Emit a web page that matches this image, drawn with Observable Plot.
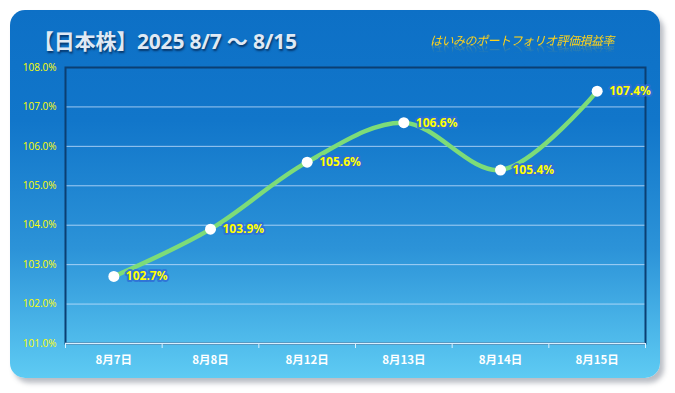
<!DOCTYPE html>
<html><head><meta charset="utf-8">
<script src="https://cdn.jsdelivr.net/npm/d3@7"></script>
<script src="https://cdn.jsdelivr.net/npm/@observablehq/plot@0.6"></script>
<style>
body{margin:0;width:675px;height:393px;overflow:hidden;background:#fff;position:relative;font-family:"Open Sans","Noto Sans CJK JP",sans-serif;}
#card{position:absolute;left:10px;top:10px;width:650px;height:368px;border-radius:15px;
 background:linear-gradient(to bottom,#0d70c6 0%,#1176ca 30%,#2c93d8 65%,#5ecbf3 100%);
 box-shadow:4px 5px 5px rgba(60,70,90,0.35);}
#chart{position:absolute;left:0;top:0;}
#title{position:absolute;left:33px;top:25px;font:bold 21px "Open Sans","Noto Sans CJK JP",sans-serif;color:#dfe9f4;
 text-shadow:1px 2px 2px rgba(0,30,70,0.7);white-space:nowrap;letter-spacing:-0.2px}
#sub{position:absolute;left:430px;top:31px;font:italic 12px "Noto Sans CJK JP",sans-serif;color:#ffd21a;white-space:nowrap;letter-spacing:-0.5px;
 -webkit-box-reflect:below -6px linear-gradient(transparent 35%, rgba(255,255,255,0.45));}
</style></head>
<body>
<div id="card"></div>
<div id="chart"></div>
<div id="title">【日本株】2025 8/7 ～ 8/15</div>
<div id="sub">はいみのポートフォリオ評価損益率</div>
<script>
const dates = ["8月7日","8月8日","8月12日","8月13日","8月14日","8月15日"];
const values = [102.7, 103.9, 105.6, 106.6, 105.4, 107.4];
const yTicks = [101,102,103,104,105,106,107,108];

const data = dates.map((d,i)=>({i, d, v: values[i]}));
const bounds = d3.range(-0.5, dates.length, 1);

const chart = Plot.plot({
  width: 675, height: 393,
  marginLeft: 65, marginRight: 30, marginTop: 67, marginBottom: 50,
  style: {background: "transparent", overflow: "visible"},
  x: {domain: [-0.5, dates.length - 0.5], label: null},
  y: {domain: [101, 108], label: null},
  marks: [
    Plot.gridY(yTicks, {stroke: "#cfe6ff", strokeOpacity: 0.75, strokeWidth: 1}),
    Plot.frame({stroke: "#0b3f72", strokeWidth: 2}),
    Plot.ruleY([101], {stroke: "#d8f0ff", strokeWidth: 1.5}),
    Plot.axisY(yTicks, {tickSize: 0, tickPadding: 9, label: null, tickFormat: d => d.toFixed(1) + "%", fill: "#ffff00", fontSize: 10, fontFamily: "Open Sans, sans-serif"}),
    Plot.axisX(bounds, {tickSize: 5, stroke: "#d8f0ff", label: null, tickFormat: () => ""}),
    Plot.axisX(d3.range(dates.length), {tickSize: 0, tickPadding: 12, label: null, tickFormat: i => dates[i], fill: "#ffffff", fontWeight: "bold", fontSize: 11.5, fontFamily: "Noto Sans CJK JP, sans-serif", ariaLabel: "xlabels"}),
    Plot.line(data, {x: "i", y: "v", curve: "catmull-rom", stroke: "#7ddc78", strokeWidth: 4.5}),
    Plot.dot(data, {x: "i", y: "v", r: 5.5, fill: "#ffffff"}),
    Plot.text(data, {x: "i", y: "v", text: d => d.v.toFixed(1) + "%", dx: 12, textAnchor: "start", fill: "#ffff00", stroke: "#2f6fd6", strokeWidth: 4, strokeOpacity: 0.85, fontWeight: "bold", fontSize: 12, fontFamily: "Open Sans, sans-serif", ariaLabel: "vlabels"})
  ]
});
document.getElementById("chart").appendChild(chart);
d3.select(chart).selectAll('g[aria-label="xlabels"] text').style("filter","drop-shadow(1px 1px 1px rgba(0,30,60,0.8))");
</script>
</body></html>
